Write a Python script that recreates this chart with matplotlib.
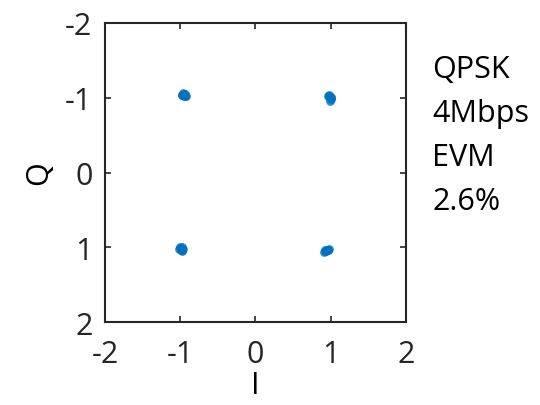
import matplotlib
matplotlib.use("Agg")
import matplotlib.pyplot as plt
import numpy as np

# ── Constellation samples ───────────────────────────────────────────────────
i_vals = [
    -0.97, -0.95, -0.93, -0.96, -0.94, -0.98, -0.95, -0.92,   # upper-left
    0.98, 0.99, 1.00, 0.97, 1.01, 0.99, 0.98, 1.00,           # upper-right
    -1.00, -0.98, -0.97, -1.01, -0.99, -0.96, -0.98, -1.00,   # lower-left
    0.91, 0.94, 0.96, 0.93, 0.98, 0.95, 0.92, 0.97,           # lower-right
]
q_vals = [
    -1.04, -1.03, -1.05, -1.06, -1.02, -1.04, -1.05, -1.03,
    -1.04, -1.00, -0.98, -1.02, -1.01, -0.96, -1.03, -0.99,
    1.01, 1.00, 1.03, 1.02, 1.04, 1.02, 1.05, 0.99,
    1.06, 1.05, 1.03, 1.04, 1.02, 1.04, 1.05, 1.03,
]
ticks = [-2, -1, 0, 1, 2]
info_lines = ["QPSK", "4Mbps", "EVM", "2.6%"]

BLUE = "#0072BD"
AX_C = "#262626"

plt.rcParams.update({"font.family": ["Open Sans", "DejaVu Sans"],
                     "axes.unicode_minus": False})

fig = plt.figure(figsize=(5.4, 4.06), dpi=100)
ax = fig.add_axes([0.1944, 0.2044, 0.5574, 0.7365])

ax.scatter(i_vals, q_vals, s=40, color=BLUE, linewidths=0, alpha=0.8, zorder=3)

ax.set_xlim(-2, 2)
ax.set_ylim(2, -2)
ax.set_xticks(ticks)
ax.set_yticks(ticks)
ax.tick_params(direction="in", length=4, width=1.2, colors=AX_C,
               top=True, right=True, labelsize=22)
ax.tick_params(axis="x", pad=12)
ax.tick_params(axis="y", pad=9)
for sp in ax.spines.values():
    sp.set_color(AX_C)
    sp.set_linewidth(1.5)

ax.set_xlabel("I", fontsize=22, labelpad=1)
ax.set_ylabel("Q", fontsize=22, labelpad=8)

for k, line in enumerate(info_lines):
    fig.text(0.80, 0.808 - k * 0.1084, line, fontsize=22, color="black", va="baseline")

fig.savefig("out.png", dpi=100)
